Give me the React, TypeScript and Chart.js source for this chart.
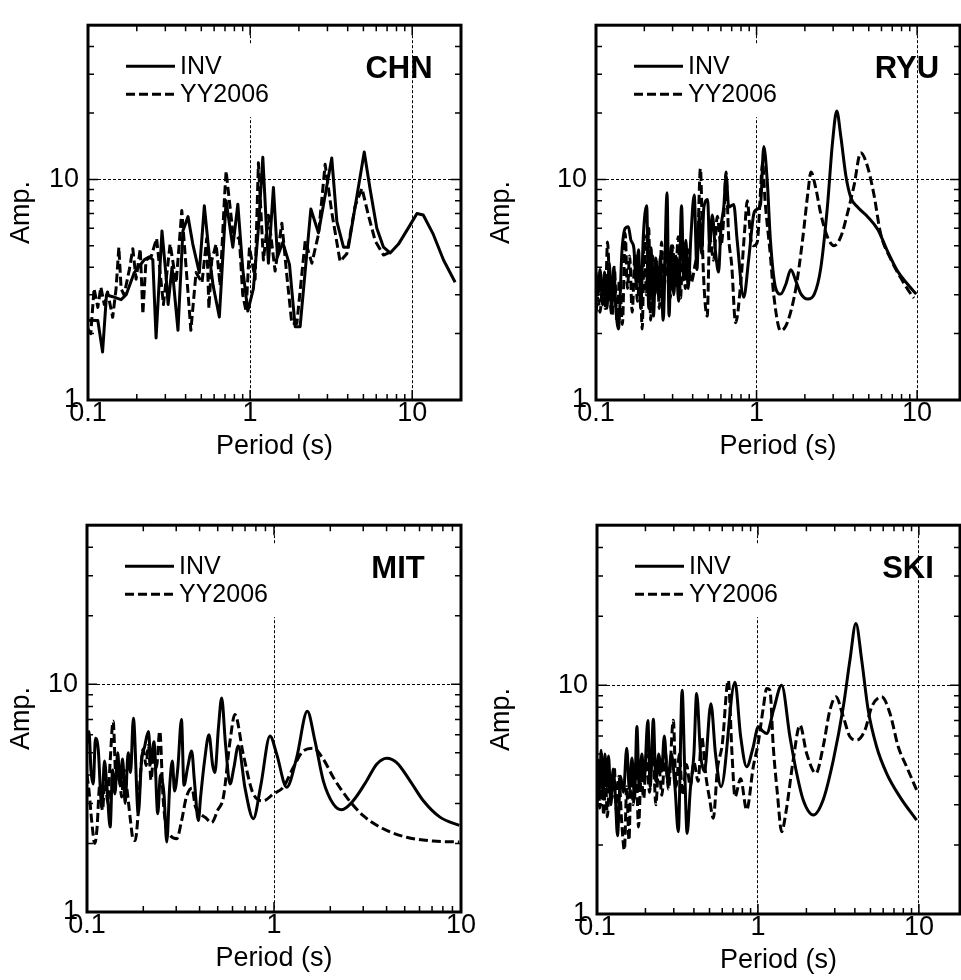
import { useEffect, useRef } from 'react';
import { Chart, registerables } from 'chart.js';

Chart.register(...registerables);

// [period (s), amplitude]
type Point = [number, number];

// ---- CHN ----
const chnInv: Point[] = [
  [0.100, 2.3], [0.115, 2.29], [0.123, 1.65], [0.130, 2.99], [0.142, 2.94], [0.160, 2.85], [0.172, 3.0],
  [0.193, 3.78], [0.207, 4.04], [0.223, 4.33], [0.239, 4.46], [0.251, 4.33], [0.263, 1.91], [0.286, 5.84],
  [0.303, 3.65], [0.312, 2.71], [0.330, 4.0], [0.359, 2.07], [0.385, 5.84], [0.414, 6.78], [0.443, 5.09],
  [0.486, 3.78], [0.522, 7.59], [0.561, 4.46], [0.591, 3.31], [0.646, 2.38], [0.711, 8.0], [0.782, 4.93],
  [0.840, 7.72], [0.901, 3.92], [0.968, 2.53], [1.048, 3.2], [1.125, 6.0], [1.198, 12.6], [1.256, 6.4],
  [1.297, 4.17], [1.393, 9.2], [1.475, 4.46], [1.591, 5.18], [1.75, 4.11], [1.896, 2.15], [2.035, 2.15],
  [2.37, 7.34], [2.64, 5.72], [3.19, 12.5], [3.43, 6.43], [3.77, 4.93], [4.04, 4.93], [5.06, 13.3],
  [5.51, 8.96], [6.05, 6.01], [6.65, 4.93], [7.31, 4.64], [8.23, 5.09], [9.72, 6.22], [10.7, 7.0],
  [11.7, 6.9], [13.5, 5.63], [15.6, 4.31], [18.4, 3.42],
];
const chnYY: Point[] = [
  [0.100, 2.1], [0.104, 2.0], [0.109, 3.2], [0.115, 2.63], [0.120, 3.25], [0.126, 2.71], [0.132, 3.09],
  [0.142, 2.37], [0.149, 3.2], [0.155, 4.93], [0.160, 3.2], [0.167, 2.99], [0.180, 3.91], [0.189, 4.85],
  [0.198, 3.53], [0.210, 4.85], [0.218, 2.45], [0.228, 4.31], [0.245, 4.46], [0.265, 5.4], [0.292, 2.71],
  [0.321, 5.1], [0.350, 3.4], [0.379, 7.22], [0.431, 2.07], [0.464, 3.78], [0.505, 3.4], [0.540, 5.4],
  [0.557, 2.6], [0.580, 4.3], [0.617, 5.09], [0.653, 3.3], [0.694, 8.1], [0.711, 10.9], [0.782, 5.8],
  [0.859, 5.35], [0.901, 2.99], [0.944, 2.53], [0.991, 4.93], [1.074, 3.53], [1.125, 11.9], [1.208, 4.31],
  [1.297, 6.87], [1.426, 3.84], [1.570, 6.33], [1.686, 3.65], [1.808, 2.22], [1.942, 2.22], [2.188, 5.27],
  [2.404, 4.17], [2.64, 5.63], [2.904, 11.7], [3.19, 7.1], [3.59, 4.24], [3.95, 4.6], [4.45, 7.6],
  [4.90, 9.1], [5.37, 6.87], [5.91, 5.27], [6.65, 4.54], [7.31, 4.68],
];

// ---- RYU ----
const ryuInv: Point[] = [
  [0.100, 3.8], [0.103, 3.0], [0.106, 3.9], [0.110, 2.7], [0.113, 3.8], [0.117, 2.6], [0.121, 4.2],
  [0.125, 2.5], [0.129, 4.0], [0.133, 2.6], [0.138, 2.1], [0.145, 4.7], [0.152, 6.0], [0.159, 6.1],
  [0.165, 5.3], [0.172, 4.9], [0.178, 3.4], [0.184, 4.8], [0.190, 2.6], [0.197, 5.5], [0.207, 7.6],
  [0.213, 2.6], [0.220, 4.9], [0.228, 2.4], [0.236, 4.4], [0.244, 3.0], [0.252, 4.5], [0.262, 2.3],
  [0.277, 8.7], [0.285, 2.4], [0.295, 5.0], [0.305, 3.0], [0.315, 4.5], [0.327, 2.8], [0.341, 7.6],
  [0.352, 3.5], [0.363, 5.3], [0.375, 3.2], [0.390, 5.5], [0.409, 8.5], [0.425, 3.9], [0.440, 6.8],
  [0.455, 4.6], [0.470, 7.5], [0.496, 8.1], [0.510, 5.0], [0.530, 6.9], [0.555, 4.7], [0.580, 3.8],
  [0.600, 6.0], [0.625, 7.5], [0.646, 10.4], [0.671, 7.5], [0.721, 7.7], [0.757, 5.3], [0.832, 2.92],
  [0.894, 4.37], [0.961, 6.98], [1.0, 7.3], [1.059, 7.7], [1.109, 14.1], [1.166, 9.8], [1.220, 5.3],
  [1.313, 3.23], [1.413, 3.02], [1.520, 3.34], [1.635, 3.89], [1.760, 3.45], [1.894, 3.02], [2.086, 2.87],
  [2.29, 3.02], [2.51, 3.95], [2.76, 7.47], [2.97, 14.6], [3.16, 20.4], [3.35, 15.6], [3.60, 10.4],
  [3.87, 8.26], [4.27, 7.47], [4.93, 6.76], [5.70, 5.91], [6.59, 4.67], [7.59, 3.82], [8.76, 3.34],
  [9.87, 3.02],
];
const ryuYY: Point[] = [
  [0.100, 2.5], [0.103, 2.9], [0.106, 2.5], [0.110, 3.3], [0.114, 2.6], [0.118, 5.2], [0.122, 3.0],
  [0.126, 2.4], [0.130, 4.0], [0.135, 2.3], [0.140, 3.5], [0.146, 2.2], [0.152, 5.7], [0.157, 3.2],
  [0.162, 4.5], [0.168, 2.5], [0.175, 4.6], [0.181, 2.8], [0.188, 3.8], [0.194, 2.1], [0.200, 5.6],
  [0.206, 3.0], [0.213, 6.0], [0.219, 2.3], [0.226, 4.5], [0.233, 3.0], [0.240, 4.2], [0.248, 2.6],
  [0.256, 5.2], [0.264, 3.1], [0.272, 4.9], [0.281, 3.5], [0.290, 2.9], [0.300, 5.0], [0.312, 3.3],
  [0.325, 5.5], [0.336, 2.9], [0.348, 5.0], [0.360, 3.2], [0.375, 4.8], [0.390, 3.4], [0.410, 3.95],
  [0.430, 5.2], [0.447, 11.2], [0.465, 4.0], [0.493, 2.4], [0.510, 5.5], [0.540, 4.3], [0.570, 6.8],
  [0.600, 5.0], [0.630, 7.5], [0.645, 10.8], [0.670, 5.5], [0.700, 4.1], [0.740, 2.24], [0.800, 3.5],
  [0.845, 6.0], [0.875, 8.0], [0.920, 5.4], [0.960, 5.0], [1.01, 5.2], [1.06, 9.0], [1.09, 12.0],
  [1.13, 8.0], [1.22, 4.5], [1.279, 3.0], [1.413, 2.06], [1.553, 2.24], [1.760, 3.23], [1.936, 5.34],
  [2.10, 9.0], [2.18, 10.8], [2.34, 9.1], [2.51, 7.0], [2.76, 5.5], [3.03, 5.0], [3.35, 5.5], [3.68, 7.0],
  [4.05, 9.4], [4.45, 13.2], [4.90, 11.5], [5.39, 8.5], [5.92, 5.7], [6.83, 4.37], [7.92, 3.57],
  [9.15, 3.02], [9.56, 2.9],
];

// ---- MIT ----
const mitInv: Point[] = [
  [0.100, 5.5], [0.1025, 6.2], [0.105, 4.2], [0.108, 3.65], [0.111, 5.8], [0.115, 5.1], [0.118, 3.4],
  [0.120, 2.88], [0.124, 4.6], [0.128, 3.5], [0.133, 2.36], [0.137, 4.2], [0.141, 3.3], [0.146, 5.0],
  [0.150, 3.6], [0.155, 4.7], [0.160, 3.0], [0.166, 5.0], [0.171, 4.1], [0.177, 7.1], [0.188, 2.7],
  [0.196, 4.7], [0.203, 5.3], [0.213, 6.2], [0.220, 4.5], [0.228, 5.6], [0.239, 2.7], [0.247, 4.0],
  [0.258, 3.3], [0.267, 2.03], [0.277, 3.6], [0.286, 4.6], [0.294, 3.4], [0.306, 4.3], [0.320, 7.0],
  [0.330, 3.6], [0.345, 4.3], [0.363, 5.1], [0.375, 3.8], [0.394, 2.52], [0.405, 3.2], [0.425, 4.6],
  [0.449, 6.0], [0.470, 4.4], [0.483, 4.1], [0.505, 6.5], [0.525, 8.7], [0.550, 5.5], [0.582, 3.65],
  [0.610, 4.3], [0.644, 5.36], [0.700, 3.5], [0.775, 2.57], [0.850, 3.6], [0.952, 5.93], [1.034, 4.93],
  [1.169, 3.53], [1.322, 4.77], [1.507, 7.62], [1.656, 5.64], [1.835, 3.77], [2.076, 2.98], [2.30, 2.81],
  [2.65, 3.08], [3.13, 3.77], [3.54, 4.46], [4.01, 4.74], [4.53, 4.53], [5.34, 3.77], [6.29, 3.08],
  [7.72, 2.61], [9.79, 2.40],
];
const mitYY: Point[] = [
  [0.100, 4.0], [0.1025, 3.41], [0.106, 2.5], [0.110, 2.0], [0.113, 2.3], [0.117, 3.6], [0.121, 2.8],
  [0.125, 4.0], [0.129, 3.0], [0.133, 4.6], [0.138, 6.89], [0.143, 3.8], [0.148, 4.5], [0.153, 3.2],
  [0.158, 4.2], [0.164, 3.4], [0.171, 2.5], [0.176, 2.1], [0.181, 2.06], [0.187, 2.6], [0.193, 4.0],
  [0.200, 5.2], [0.207, 4.4], [0.213, 5.4], [0.220, 3.8], [0.228, 5.0], [0.235, 4.3], [0.245, 6.23],
  [0.255, 3.2], [0.264, 2.4], [0.275, 2.2], [0.302, 2.10], [0.320, 2.5], [0.340, 3.2], [0.364, 3.5],
  [0.380, 2.9], [0.402, 2.7], [0.430, 2.6], [0.464, 2.47], [0.500, 2.8], [0.536, 3.19], [0.582, 5.64],
  [0.618, 7.37], [0.685, 4.93], [0.775, 3.30], [0.877, 3.08], [0.992, 3.30], [1.12, 3.53], [1.268, 4.31],
  [1.435, 5.10], [1.622, 5.24], [1.835, 4.69], [2.076, 3.90], [2.45, 3.19], [3.0, 2.65], [3.84, 2.32],
  [5.12, 2.13], [7.11, 2.05], [9.79, 2.03],
];

// ---- SKI ----
const skiInv: Point[] = [
  [0.100, 4.0], [0.102, 4.7], [0.104, 3.5], [0.106, 5.2], [0.109, 3.3], [0.112, 5.0], [0.115, 3.6],
  [0.118, 4.9], [0.122, 3.0], [0.126, 4.3], [0.130, 3.3], [0.134, 2.2], [0.140, 4.0], [0.146, 3.4],
  [0.153, 5.3], [0.159, 3.5], [0.165, 4.8], [0.171, 3.2], [0.177, 6.6], [0.183, 3.5], [0.190, 5.0],
  [0.196, 3.8], [0.207, 7.0], [0.214, 3.6], [0.224, 7.1], [0.232, 3.8], [0.242, 5.0], [0.252, 4.2],
  [0.262, 6.0], [0.275, 3.8], [0.290, 5.0], [0.305, 3.6], [0.320, 2.29], [0.338, 9.5], [0.350, 4.5],
  [0.363, 2.25], [0.380, 3.5], [0.400, 5.0], [0.416, 9.2], [0.440, 5.0], [0.465, 4.2], [0.510, 8.3],
  [0.545, 5.0], [0.590, 3.6], [0.720, 10.3], [0.780, 6.0], [0.851, 4.4], [0.930, 5.3], [1.005, 6.58],
  [1.07, 6.3], [1.133, 6.15], [1.25, 7.8], [1.403, 10.0], [1.58, 5.95], [1.74, 4.12], [1.91, 3.15],
  [2.21, 2.71], [2.54, 3.15], [2.94, 4.71], [3.39, 8.04], [3.73, 12.9], [4.06, 18.6], [4.41, 12.9],
  [4.84, 7.78], [5.46, 5.38], [6.30, 4.12], [7.62, 3.25], [9.68, 2.57],
];
const skiYY: Point[] = [
  [0.100, 3.0], [0.102, 3.9], [0.104, 2.9], [0.107, 4.3], [0.110, 2.7], [0.113, 3.8], [0.116, 2.66],
  [0.120, 4.1], [0.124, 3.2], [0.128, 4.4], [0.132, 2.8], [0.137, 4.0], [0.142, 2.6], [0.148, 1.90],
  [0.153, 3.6], [0.158, 2.10], [0.163, 4.3], [0.168, 3.0], [0.175, 4.6], [0.181, 2.40], [0.188, 4.0],
  [0.195, 3.2], [0.203, 5.0], [0.212, 3.4], [0.222, 5.5], [0.232, 3.0], [0.242, 4.5], [0.253, 3.3],
  [0.265, 5.2], [0.278, 3.5], [0.298, 7.03], [0.310, 3.6], [0.325, 5.0], [0.340, 3.3], [0.360, 4.5],
  [0.380, 3.6], [0.400, 4.6], [0.425, 3.8], [0.447, 5.95], [0.475, 4.0], [0.500, 3.2], [0.528, 2.62],
  [0.560, 4.3], [0.600, 5.5], [0.654, 10.5], [0.690, 5.0], [0.720, 3.25], [0.780, 3.9], [0.851, 2.85],
  [0.935, 4.4], [1.00, 5.5], [1.08, 8.0], [1.133, 9.67], [1.187, 9.5], [1.245, 5.38], [1.32, 3.37],
  [1.403, 2.29], [1.50, 2.85], [1.656, 4.71], [1.823, 6.69], [2.007, 5.03], [2.29, 4.12], [2.54, 5.38],
  [2.80, 7.78], [3.05, 8.89], [3.39, 7.27], [3.73, 5.95], [4.11, 5.75], [4.62, 6.36], [5.09, 8.04],
  [5.87, 8.89], [6.61, 7.52], [7.44, 5.38], [8.39, 4.40], [9.68, 3.48],
];

const periodTicks = [0.1, 1, 10];
const ampTicks = [1, 10];
const seriesNames = ['INV', 'YY2006'];
const periodTitle = 'Period (s)';
const ampTitle = 'Amp.';

const FONT = '"Liberation Sans", Arial, Helvetica, sans-serif';

type Area = { left: number; top: number; right: number; bottom: number };

interface PanelSpec {
  station: string;
  inv: Point[];
  yy: Point[];
  periodMax: number;
  smooth: boolean;
  x: number;
  y: number;
  w: number;
  h: number;
  area: Area;
}

const panels: PanelSpec[] = [
  { station: 'CHN', inv: chnInv, yy: chnYY, periodMax: 20, smooth: false, x: 0, y: 0, w: 480, h: 470,
    area: { left: 88, top: 8, right: 461, bottom: 400 } },
  { station: 'RYU', inv: ryuInv, yy: ryuYY, periodMax: 18.5, smooth: true, x: 480, y: 0, w: 481, h: 470,
    area: { left: 116, top: 10, right: 480, bottom: 400 } },
  { station: 'MIT', inv: mitInv, yy: mitYY, periodMax: 10, smooth: true, x: 0, y: 500, w: 480, h: 482,
    area: { left: 87, top: 21, right: 461, bottom: 412 } },
  { station: 'SKI', inv: skiInv, yy: skiYY, periodMax: 18, smooth: true, x: 480, y: 500, w: 481, h: 484,
    area: { left: 117, top: 24, right: 480, bottom: 414 } },
];

// Plot frame plus inward minor/major tick marks on all four sides.
const framePlugin = {
  id: 'frameTicks',
  afterDraw(chart: any) {
    const { ctx, chartArea: a, scales } = chart;
    const xs = scales.x;
    const ys = scales.y;
    ctx.save();
    ctx.setLineDash([]);
    ctx.strokeStyle = '#000';
    ctx.lineWidth = 1.5;
    ctx.beginPath();
    for (let e = -1; e <= 2; e++) {
      const d = Math.pow(10, e);
      for (let k = 1; k <= 9; k++) {
        const v = +(k * d).toPrecision(3);
        const len = k === 1 ? 10 : 6;
        if (v > xs.min && v < xs.max) {
          const px = xs.getPixelForValue(v);
          ctx.moveTo(px, a.bottom);
          ctx.lineTo(px, a.bottom - len);
          ctx.moveTo(px, a.top);
          ctx.lineTo(px, a.top + len);
        }
        if (v > ys.min && v < ys.max) {
          const py = ys.getPixelForValue(v);
          ctx.moveTo(a.left, py);
          ctx.lineTo(a.left + len, py);
          ctx.moveTo(a.right, py);
          ctx.lineTo(a.right - len, py);
        }
      }
    }
    ctx.stroke();
    ctx.lineWidth = 3;
    ctx.strokeRect(a.left, a.top, a.right - a.left, a.bottom - a.top);
    ctx.restore();
  },
};

// Legend inside the plot (white box) and the station name.
const insetLegendPlugin = {
  id: 'insetLegend',
  afterDatasetsDraw(chart: any, _args: any, opts: any) {
    const { ctx, chartArea: a } = chart;
    ctx.save();
    ctx.fillStyle = '#fff';
    ctx.fillRect(a.left + 30, a.top + 19, 170, 73);
    chart.data.datasets.forEach((ds: any, i: number) => {
      const y = a.top + 41 + i * 28;
      ctx.beginPath();
      ctx.setLineDash(ds.borderDash || []);
      ctx.lineWidth = ds.borderWidth;
      ctx.strokeStyle = ds.borderColor;
      ctx.moveTo(a.left + 38, y);
      ctx.lineTo(a.left + 87, y);
      ctx.stroke();
      ctx.setLineDash([]);
      ctx.fillStyle = '#000';
      ctx.font = `25px ${FONT}`;
      ctx.textAlign = 'left';
      ctx.textBaseline = 'middle';
      ctx.fillText(ds.label, a.left + 92, y + 1);
    });
    ctx.font = `bold 31px ${FONT}`;
    ctx.textAlign = 'center';
    ctx.textBaseline = 'middle';
    ctx.fillStyle = '#000';
    ctx.fillText(opts.station, a.left + 311, a.top + 44);
    ctx.restore();
  },
};

function buildConfig(p: PanelSpec): any {
  const tickFont = { family: FONT, size: 27 };
  const titleFont = { family: FONT, size: 27 };
  const lineBase: any = {
    borderColor: '#000',
    borderWidth: 3,
    pointRadius: 0,
    fill: false,
    borderJoinStyle: 'round',
  };
  if (p.smooth) lineBase.cubicInterpolationMode = 'monotone';
  return {
    type: 'line',
    data: {
      datasets: [
        { ...lineBase, label: seriesNames[0], data: p.inv.map(([x, y]) => ({ x, y })) },
        { ...lineBase, label: seriesNames[1], borderDash: [9, 4], data: p.yy.map(([x, y]) => ({ x, y })) },
      ],
    },
    options: {
      animation: false,
      responsive: false,
      maintainAspectRatio: false,
      devicePixelRatio: 1,
      events: [],
      layout: { padding: { left: 0, top: p.area.top, right: p.w - p.area.right, bottom: 0 } },
      plugins: {
        legend: { display: false },
        tooltip: { enabled: false },
        insetLegend: { station: p.station },
      },
      scales: {
        x: {
          type: 'logarithmic',
          position: 'bottom',
          min: 0.1,
          max: p.periodMax,
          afterBuildTicks: (s: any) => {
            s.ticks = periodTicks.filter((v) => v <= p.periodMax).map((v) => ({ value: v }));
          },
          afterFit: (s: any) => {
            s.height = p.h - p.area.bottom;
          },
          ticks: {
            autoSkip: false,
            maxRotation: 0,
            padding: -3,
            color: '#000',
            font: tickFont,
            callback: (v: number) => String(v),
          },
          grid: { display: true, drawTicks: false, color: '#000', lineWidth: 1 },
          border: { display: false, dash: [3, 2] },
          title: { display: true, text: periodTitle, color: '#000', font: titleFont, padding: { top: 0, bottom: 7 } },
        },
        y: {
          type: 'logarithmic',
          position: 'left',
          min: 1,
          max: 50,
          afterBuildTicks: (s: any) => {
            s.ticks = ampTicks.map((v) => ({ value: v }));
          },
          afterFit: (s: any) => {
            s.width = p.area.left;
          },
          ticks: {
            autoSkip: false,
            padding: 9,
            color: '#000',
            font: tickFont,
            callback: (v: number) => String(v),
          },
          grid: { display: true, drawTicks: false, color: '#000', lineWidth: 1 },
          border: { display: false, dash: [3, 2] },
          title: { display: true, text: ampTitle, color: '#000', font: titleFont, padding: { top: 5, bottom: 0 } },
        },
      },
    },
    plugins: [framePlugin, insetLegendPlugin],
  };
}

function Panel({ spec }: { spec: PanelSpec }) {
  const ref = useRef<HTMLCanvasElement>(null);
  useEffect(() => {
    if (!ref.current) return;
    const chart = new Chart(ref.current, buildConfig(spec));
    return () => chart.destroy();
  }, [spec]);
  return (
    <canvas
      ref={ref}
      width={spec.w}
      height={spec.h}
      style={{ position: 'absolute', left: spec.x, top: spec.y, width: spec.w, height: spec.h }}
    />
  );
}

export default function App() {
  return (
    <div
      style={{
        position: 'absolute',
        left: 0,
        top: 0,
        width: 961,
        height: 980,
        overflow: 'hidden',
        background: '#fff',
      }}
    >
      {panels.map((p) => (
        <Panel key={p.station} spec={p} />
      ))}
    </div>
  );
}
